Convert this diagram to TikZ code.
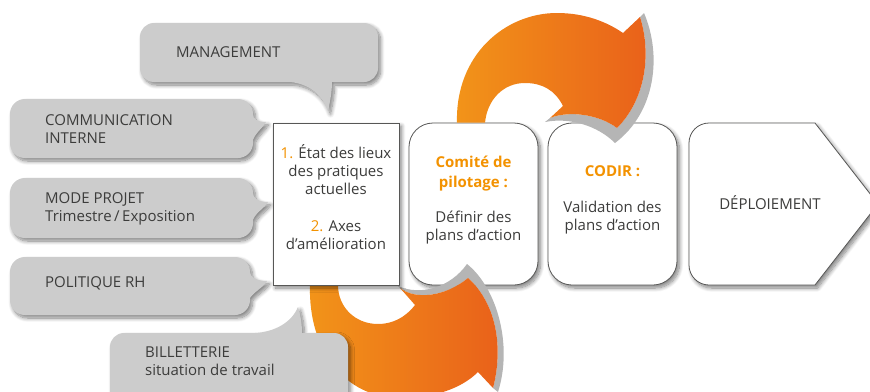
\documentclass[tikz,border=0pt]{standalone}
\usepackage{fontspec}
\setmainfont{Open Sans}
\usetikzlibrary{shadows.blur}
\definecolor{bub}{HTML}{CCCCCC}
\definecolor{txt}{HTML}{3C3C3B}
\definecolor{orng}{HTML}{F39200}
\definecolor{oL}{HTML}{F29419}
\definecolor{oR}{HTML}{E9601A}
\definecolor{ext}{HTML}{B5B5B5}
\definecolor{bord}{HTML}{575756}
\begin{document}
\begin{tikzpicture}[x=1pt,y=-1pt,
  bshadow/.style={blur shadow={shadow xshift=2.5pt,shadow yshift=-3pt,shadow blur radius=4pt,shadow blur steps=10,shadow opacity=50}},
  bubble/.style={fill=bub,bshadow},
  mainbox/.style={draw=bord,line width=0.8pt,fill=white,bshadow},
  btxt/.style={inner sep=0pt,text=txt,font=\fontsize{15}{18.5}\selectfont,align=left},
  ctxt/.style={inner sep=0pt,text=txt,font=\fontsize{15}{18.3}\selectfont,align=center},
  otxt/.style={inner sep=0pt,text=orng,font=\fontsize{15}{20}\selectfont\bfseries,align=center},
  orangefill/.style={left color=oL,right color=oR},
  extfill/.style={fill=ext}]
\useasboundingbox (0,0) rectangle (870,391);

% speech bubbles (left column)
\path[bubble] (154,23) -- (364,23) arc[start angle=90,end angle=0,radius=14pt] -- (378,68) arc[start angle=0,end angle=-90,radius=14pt]
  -- (332,82) .. controls (332,92) and (330,102) .. (328,111) .. controls (322,95) and (310,84) .. (290,82)
  -- (154,82) arc[start angle=-90,end angle=-180,radius=14pt] -- (140,37) arc[start angle=180,end angle=90,radius=14pt] -- cycle;
\path[bubble] (25,99) -- (238,99) arc[start angle=90,end angle=0,radius=15pt]
  .. controls (253,119) and (257,122) .. (266,122) .. controls (263,128) and (256,132) .. (253,140)
  -- (253,143) arc[start angle=0,end angle=-90,radius=15pt] -- (25,158) arc[start angle=-90,end angle=-180,radius=15pt] -- (10,114) arc[start angle=180,end angle=90,radius=15pt] -- cycle;
\path[bubble] (25,178) -- (238,178) arc[start angle=90,end angle=0,radius=15pt]
  .. controls (253,198) and (258,202) .. (268,202) .. controls (265,208) and (256,212) .. (253,220)
  -- (253,223) arc[start angle=0,end angle=-90,radius=15pt] -- (25,238) arc[start angle=-90,end angle=-180,radius=15pt] -- (10,193) arc[start angle=180,end angle=90,radius=15pt] -- cycle;
\path[bubble] (25,257) -- (235,257) arc[start angle=90,end angle=0,radius=15pt]
  .. controls (250,277) and (256,281) .. (267,281) .. controls (264,287) and (255,291) .. (250,298)
  -- (250,300) arc[start angle=0,end angle=-90,radius=15pt] -- (25,315) arc[start angle=-90,end angle=-180,radius=15pt] -- (10,272) arc[start angle=180,end angle=90,radius=15pt] -- cycle;

% boxes 2, 3, 4
\node[mainbox,rounded corners=24pt,minimum width=129pt,minimum height=162pt] (box2) at (473.5,204) {};
\node[mainbox,rounded corners=24pt,minimum width=129pt,minimum height=162pt] (box3) at (612.5,204) {};
\path[mainbox] (689,143) arc[start angle=180,end angle=90,radius=20pt] -- (815,123) -- (878,204) -- (815,285) -- (709,285) arc[start angle=-90,end angle=-180,radius=20pt] -- cycle;

% lower curved arrow
\fill[extfill] (398,286) .. controls (420,296) and (450,288) .. (467,264) .. controls (497,288) and (513,345) .. (498,392) -- (493,388)
  .. controls (503,350) and (498,305) .. (468,278) .. controls (445,297) and (415,300) .. (400,288) -- cycle;
\shade[orangefill] (310,275) -- (310,285) .. controls (308,350) and (345,398) .. (400,398) .. controls (435,398) and (462,388) .. (478,372)
  -- (493,388) .. controls (503,350) and (498,305) .. (468,278) .. controls (445,297) and (415,300) .. (400,288)
  -- (415,305) .. controls (405,318) and (392,324) .. (378,324) .. controls (355,324) and (338,307) .. (338,285) -- (338,275) -- cycle;

% box 1
\node[mainbox,minimum width=126pt,minimum height=162pt] (box1) at (336,204) {};

% upper curved arrow
\begin{scope}
\clip (0,0) -- (870,0) -- (870,391) -- (541,391) -- (541,122.6) -- (0,122.6) -- cycle;
\fill[extfill] (640,17) -- (644,13) .. controls (662,55) and (656,112) .. (615,143) .. controls (598,126) and (570,117) .. (545,122) -- (550,118)
  .. controls (570,110) and (600,115) .. (617,128) .. controls (645,100) and (652,55) .. (640,17) -- cycle;
\shade[orangefill] (457,130) -- (457,123) .. controls (455,55) and (505,13) .. (557,13) .. controls (585,13) and (607,22) .. (623,33)
  -- (640,17) .. controls (652,55) and (645,100) .. (617,128) .. controls (600,115) and (570,110) .. (550,118)
  -- (563,106) .. controls (555,90) and (542,83) .. (525,83) .. controls (503,83) and (487,100) .. (485,123) -- (485,130) -- cycle;
\end{scope}

% bottom bubble (over the lower arrow)
\path[bubble] (124,333) -- (255,333) .. controls (275,332) and (292,322) .. (298,307) .. controls (301,317) and (302,325) .. (302,333)
  -- (334,333) arc[start angle=90,end angle=0,radius=14pt] -- (348,405) -- (110,405) -- (110,347) arc[start angle=180,end angle=90,radius=14pt] -- cycle;

% texts
\node[btxt,anchor=base west] (tmanag) at (176,57) {MANAGEMENT};
\node[btxt,anchor=north west] (tcomm) at (45,110) {\rule{0pt}{15pt}COMMUNICATION\\INTERNE};
\node[btxt,anchor=north west,font=\fontsize{15}{18}\selectfont] (tmode) at (45,188) {\rule{0pt}{15pt}MODE PROJET\\Trimestre\,/\,Exposition};
\node[btxt,anchor=base west] (tpol) at (45,287) {POLITIQUE RH};
\node[btxt,anchor=north west,font=\fontsize{15}{18}\selectfont] (tbill) at (145,342) {\rule{0pt}{15pt}BILLETTERIE\\situation de travail};

\node[ctxt,anchor=north] (t1) at (336,143) {\rule{0pt}{15pt}{\color{orng}1.} État des lieux\\des pratiques\\actuelles\\[18.3pt]{\color{orng}2.} Axes\\d’amélioration};
\node[otxt,anchor=north] (t2a) at (473.5,152) {\rule{0pt}{15pt}Comité de\\pilotage :};
\node[ctxt,anchor=north] (t2b) at (473.5,207) {\rule{0pt}{15pt}Définir des\\plans d’action};
\node[otxt,anchor=base] (t3a) at (612.5,176) {CODIR :};
\node[ctxt,anchor=north] (t3b) at (612.5,197) {\rule{0pt}{15pt}Validation des\\plans d’action};
\node[ctxt,anchor=base] (t4) at (770,209) {DÉPLOIEMENT};
\end{tikzpicture}
\end{document}
